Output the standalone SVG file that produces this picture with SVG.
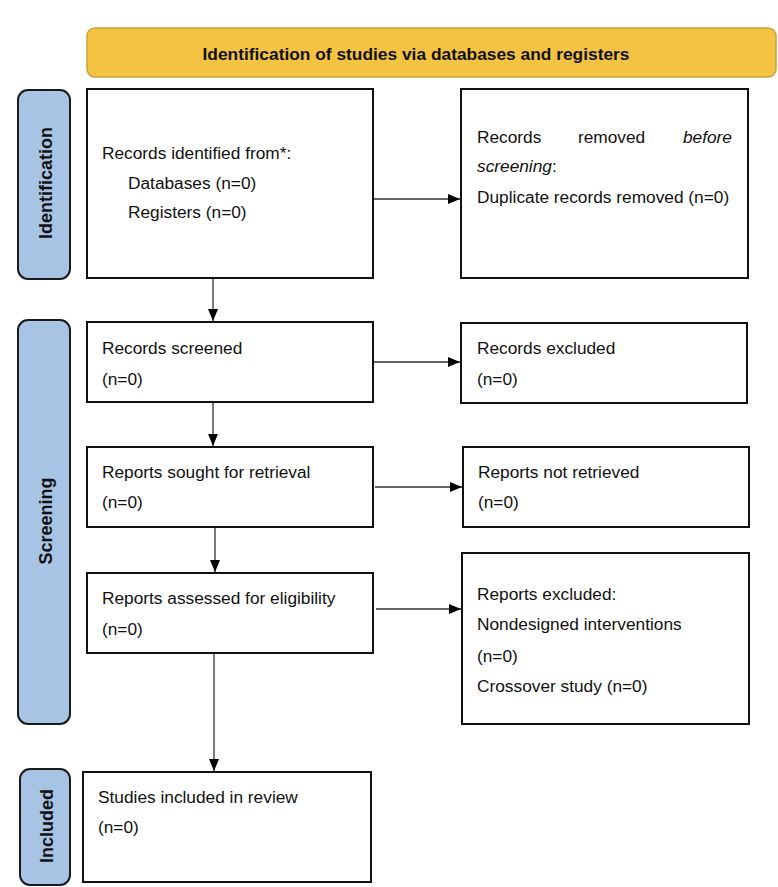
<svg xmlns="http://www.w3.org/2000/svg" width="778" height="887" viewBox="0 0 778 887">
<style>
text{font-family:"Liberation Sans",Arial,sans-serif;font-size:17.3px;fill:#111}
.box{fill:#fff;stroke:#111;stroke-width:2}
.side{fill:#A8C4E4;stroke:#1a1a1a;stroke-width:2}
.sl{font-weight:bold;font-size:18px;text-anchor:middle}
.conn{stroke:#333;stroke-width:1.3;fill:none}
</style>
<defs>
<marker id="ah" markerWidth="12" markerHeight="10" refX="12" refY="5" orient="auto" markerUnits="userSpaceOnUse">
<path d="M0,0 L12,5 L0,10 Z" fill="#000"/>
</marker>
</defs>

<g id="header">
<rect x="87" y="28" width="689" height="49" rx="8" fill="#F5C342" stroke="#C9A23A" stroke-width="1.5"/>
<text x="416" y="60" text-anchor="middle" font-weight="bold" font-size="17" textLength="427" lengthAdjust="spacingAndGlyphs">Identification of studies via databases and registers</text>
</g>

<g id="label-identification">
<rect class="side" x="18" y="90" width="52" height="189" rx="10"/>
<text class="sl" transform="translate(52,183) rotate(-90)">Identification</text>
</g>
<g id="label-screening">
<rect class="side" x="18" y="320" width="52" height="404" rx="10"/>
<text class="sl" transform="translate(52,521) rotate(-90)">Screening</text>
</g>
<g id="label-included">
<rect class="side" x="20" y="769" width="50" height="116" rx="10"/>
<text class="sl" transform="translate(53,826) rotate(-90)">Included</text>
</g>

<g id="records-identified">
<rect class="box" x="87" y="89" width="286" height="189"/>
<text x="102" y="159">Records identified from*:</text>
<text x="128" y="189">Databases (n=0)</text>
<text x="128" y="218">Registers (n=0)</text>
</g>

<g id="records-removed">
<rect class="box" x="461" y="89" width="287" height="189"/>
<text x="477" y="143">Records</text>
<text x="578" y="143">removed</text>
<text x="732" y="143" font-style="italic" text-anchor="end">before</text>
<text x="477" y="172"><tspan font-style="italic">screening</tspan>:</text>
<text x="477" y="203">Duplicate records removed (n=0)</text>
</g>

<g id="records-screened">
<rect class="box" x="87" y="322" width="286" height="80"/>
<text x="102" y="354">Records screened</text>
<text x="102" y="385">(n=0)</text>
</g>

<g id="records-excluded">
<rect class="box" x="461" y="323" width="286" height="80"/>
<text x="477" y="354">Records excluded</text>
<text x="477" y="385">(n=0)</text>
</g>

<g id="reports-sought">
<rect class="box" x="87" y="447" width="286" height="80"/>
<text x="102" y="478">Reports sought for retrieval</text>
<text x="102" y="508">(n=0)</text>
</g>

<g id="reports-not-retrieved">
<rect class="box" x="463" y="447" width="286" height="80"/>
<text x="478" y="478">Reports not retrieved</text>
<text x="478" y="508">(n=0)</text>
</g>

<g id="reports-assessed">
<rect class="box" x="87" y="573" width="286" height="80"/>
<text x="102" y="604">Reports assessed for eligibility</text>
<text x="102" y="635">(n=0)</text>
</g>

<g id="reports-excluded">
<rect class="box" x="462" y="553" width="287" height="171"/>
<text x="477" y="600">Reports excluded:</text>
<text x="477" y="630">Nondesigned interventions</text>
<text x="477" y="662">(n=0)</text>
<text x="477" y="692">Crossover study (n=0)</text>
</g>

<g id="studies-included">
<rect class="box" x="83" y="772" width="288" height="110"/>
<text x="98" y="803">Studies included in review</text>
<text x="98" y="833">(n=0)</text>
</g>

<g id="connectors">
<line class="conn" x1="374" y1="199" x2="460" y2="199" marker-end="url(#ah)"/>
<line class="conn" x1="213" y1="279" x2="213" y2="321" marker-end="url(#ah)"/>
<line class="conn" x1="374" y1="362" x2="460" y2="362" marker-end="url(#ah)"/>
<line class="conn" x1="213" y1="403" x2="213" y2="446" marker-end="url(#ah)"/>
<line class="conn" x1="375" y1="487" x2="462" y2="487" marker-end="url(#ah)"/>
<line class="conn" x1="215" y1="528" x2="215" y2="572" marker-end="url(#ah)"/>
<line class="conn" x1="376" y1="609" x2="461" y2="609" marker-end="url(#ah)"/>
<line class="conn" x1="214" y1="654" x2="214" y2="771" marker-end="url(#ah)"/>
</g>
</svg>
